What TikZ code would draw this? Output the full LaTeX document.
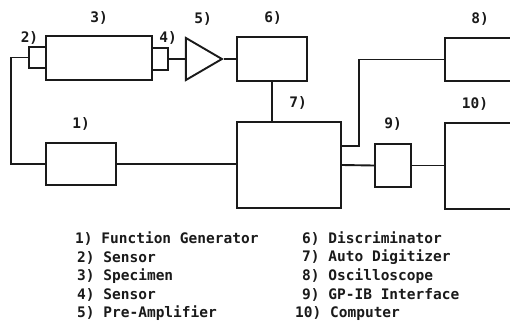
\documentclass[tikz,border=0pt]{standalone}
\usepackage{fontspec}
\setmonofont{DejaVu Sans Mono}
\usetikzlibrary{
	positioning,
	shapes.geometric
}
\definecolor{WireInk}{HTML}{1A1A1A}

\begin{document}
\begin{tikzpicture}[
 x=1pt,y=-1pt,
 font=\ttfamily\bfseries\fontsize{14.5}{16}\selectfont,
 block/.style={draw=WireInk,line width=1.9pt,inner sep=0pt},
 unit/.style={block,minimum width=#1},
 amp/.style={block,isosceles triangle,isosceles triangle stretches,
   minimum width=42,minimum height=36},
 tag/.style={inner sep=0pt,text=WireInk},
 entry/.style={tag,anchor=west},
 wire/.style={draw=WireInk,line width=1.9pt}
]
 \useasboundingbox (0,0) rectangle (510,335);
 \clip (0,0) rectangle (510,335);
 % sensor line
 \node[unit=17,minimum height=21] (sensA) at (37.5,57.5) {};
 \node[unit=106,minimum height=44] (spec) at (99,58) {};
 \node[unit=16,minimum height=22] (sensB) at (160,59) {};
 \node[amp] (preamp) at (198,59) {};
 \node[unit=70,minimum height=44] (disc) at (272,59) {};
 \node[unit=70,minimum height=43] (osc) at (480,59.5) {};
 % lower row
 \node[unit=70,minimum height=42] (gen) at (81,164) {};
 \node[unit=104,minimum height=86] (digi) at (289,165) {};
 \node[unit=36,minimum height=43] (gpib) at (393,165.5) {};
 \node[unit=70,minimum height=86] (comp) at (480,166) {};
 % numbers
 \node[tag] at (29.5,38) {2)};
 \node[tag] at (99,18) {3)};
 \node[tag] at (168,38) {4)};
 \node[tag] at (203,19) {5)};
 \node[tag] at (273,18) {6)};
 \node[tag] at (480,19) {8)};
 \node[tag] at (81,124) {1)};
 \node[tag] at (298,103) {7)};
 \node[tag] at (393,124) {9)};
 \node[tag] at (475,104) {10)};
 % wiring
 \draw[wire] (sensA.west)--++(-17,0)|-(gen.west);
 \draw[wire] (sensB.east)--(preamp.west);
 \draw[wire] (preamp.apex)--(disc.west);
 \draw[wire] (disc.south)--(disc.south|-digi.north);
 \draw[wire] (gen.east)--(gen.east-|digi.west);
 \draw[wire] ([yshift=19pt]digi.east)--++(17,0)|-(osc.west);
 \draw[wire] (digi.east)--(gpib.west);
 \draw[wire] (gpib.east)--(gpib.east-|comp.west);
 % legend
 \foreach \n/\x/\t [count=\i] in {1/75/Function Generator,2/77/Sensor,
   3/77/Specimen,4/77/Sensor,5/77/Pre-Amplifier}
   \node[entry] (keyL\i) at (\x,{239+18.5*(\i-1)}) {\n) \t};
 \foreach \n/\x/\t [count=\i] in {6/302/Discriminator,7/302/Auto Digitizer,
   8/302/Oscilloscope,9/302/GP-IB Interface,10/295/Computer}
   \node[entry] (keyR\i) at (\x,{239+18.5*(\i-1)}) {\n) \t};
\end{tikzpicture}
\end{document}
